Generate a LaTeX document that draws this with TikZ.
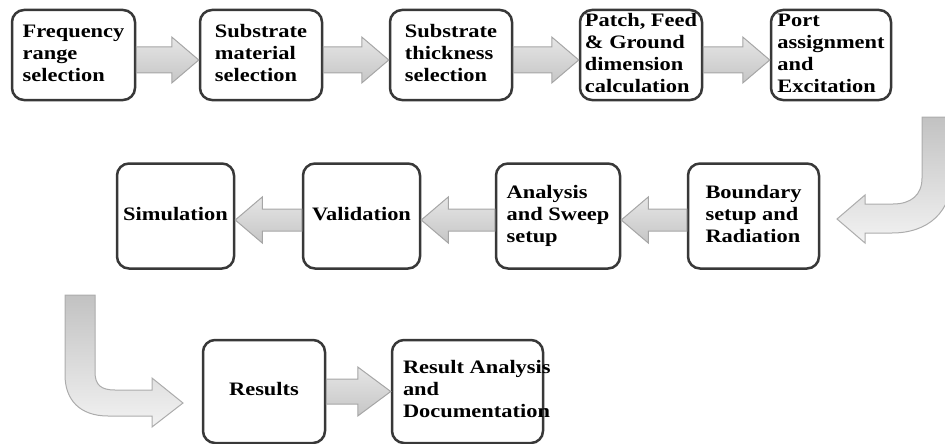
\documentclass[tikz,border=0pt]{standalone}
\usepackage{fontspec}
\usepackage{graphicx}
\setmainfont{Liberation Serif}
\usetikzlibrary{calc}

% multi-line, left-aligned, slightly widened label
\newcommand\lbl[1]{\scalebox{1.18}[1]{\begin{tabular}{@{}l@{}}#1\end{tabular}}}

% straight block arrow pointing right: source, target, axis offset, shaft half, head half, head length
\newcommand\blockR[6]{%
  \draw[flowarrow]
    ($(#1.east)+(0,#3-#4)$) -- ($(#2.west)+(-#6,#3-#4)$) -- ($(#2.west)+(-#6,#3-#5)$)
    -- ($(#2.west)+(0,#3)$)
    -- ($(#2.west)+(-#6,#3+#5)$) -- ($(#2.west)+(-#6,#3+#4)$) -- ($(#1.east)+(0,#3+#4)$) -- cycle;}
% straight block arrow pointing left
\newcommand\blockL[6]{%
  \draw[flowarrow]
    ($(#1.west)+(0,#3-#4)$) -- ($(#2.east)+(#6,#3-#4)$) -- ($(#2.east)+(#6,#3-#5)$)
    -- ($(#2.east)+(0,#3)$)
    -- ($(#2.east)+(#6,#3+#5)$) -- ($(#2.east)+(#6,#3+#4)$) -- ($(#1.west)+(0,#3+#4)$) -- cycle;}

\tikzset{
  stepbox/.style={draw=black!78, line width=2.5pt, rounded corners=12pt, fill=white,
    inner sep=0pt, font=\fontsize{19}{22}\selectfont\bfseries},
  flowarrow/.style={draw=gray!70, line width=1pt, top color=gray!20, bottom color=gray!45},
  bentarrow/.style={draw=gray!65, line width=1pt, top color=gray!48, bottom color=gray!10},
}

\begin{document}
\begin{tikzpicture}[x=1pt, y=-1pt]
\useasboundingbox (0,0) rectangle (945,444);

% first row
\node[stepbox, minimum width=123pt, minimum height=90pt] (freq) at (73.5,55) {\lbl{Frequency\\range\\selection}};
\node[stepbox, minimum width=122pt, minimum height=90pt] (mat)  at (261,55)  {\lbl{Substrate\\material\\selection}};
\node[stepbox, minimum width=122pt, minimum height=90pt] (thk)  at (451,55)  {\lbl{Substrate\\thickness\\selection}};
\node[stepbox, minimum width=122pt, minimum height=90pt] (dim)  at (641,55)  {\lbl{Patch, Feed\\\& Ground\\dimension\\calculation}};
\node[stepbox, minimum width=120pt, minimum height=90pt] (port) at (831,55)  {\lbl{Port\\assignment\\and\\Excitation}};

% second row
\node[stepbox, minimum width=117pt, minimum height=105pt] (sim)   at (175.5,216) {\lbl{Simulation}};
\node[stepbox, minimum width=117pt, minimum height=105pt] (valid) at (361.5,216) {\lbl{Validation}};
\node[stepbox, minimum width=124pt, minimum height=105pt] (sweep) at (558,216)   {\lbl{Analysis\\and Sweep\\setup}};
\node[stepbox, minimum width=131pt, minimum height=105pt] (bound) at (753.5,216) {\lbl{Boundary\\setup and\\Radiation}};

% third row
\node[stepbox, minimum width=122pt, minimum height=103pt] (res) at (264,391.5) {\lbl{Results}};
\node[stepbox, minimum width=151pt, minimum height=103pt] (doc) at (467.5,391.5)
  {\makebox[129pt][l]{\lbl{Result Analysis\\and\\Documentation}}};

% straight arrows
\blockR{freq}{mat}{5}{13}{23}{27}
\blockR{mat}{thk}{5}{13}{23}{27}
\blockR{thk}{dim}{5}{13}{23}{27}
\blockR{dim}{port}{5}{13}{23}{27}
\blockL{bound}{sweep}{4}{11}{23}{27}
\blockL{sweep}{valid}{4}{11}{23}{27}
\blockL{valid}{sim}{4}{11}{23}{27}
\blockR{res}{doc}{0}{12.5}{24.5}{33}

% bent arrow from the first row down into the second row
\draw[bentarrow] (922,117) -- (952,117) -- (952,175)
  .. controls (952,212) and (928,233) .. (892,233) -- (865,233) -- (865,243)
  -- (837,219) -- (865,195) -- (865,204) -- (893,204)
  .. controls (911,204) and (922,195) .. (922,178) -- cycle;

% bent arrow from the second row down into the third row
\draw[bentarrow] (65,295) -- (95,295) -- (95,372)
  .. controls (95,385) and (101,390) .. (115,390) -- (152,390) -- (152,378)
  -- (183,403) -- (152,427) -- (152,416) -- (108,416)
  .. controls (80,416) and (65,400) .. (65,375) -- cycle;

\end{tikzpicture}
\end{document}
